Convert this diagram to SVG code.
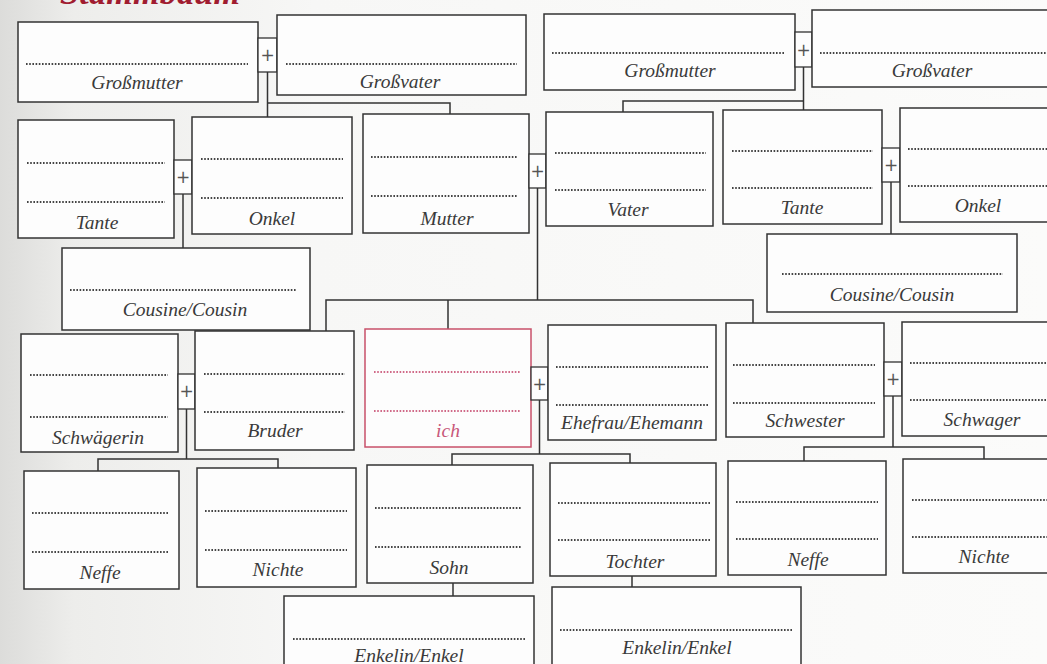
<svg xmlns="http://www.w3.org/2000/svg" width="1047" height="664" viewBox="0 0 1047 664">
<defs>
<linearGradient id="bg" x1="0" y1="0" x2="1" y2="0">
<stop offset="0" stop-color="#dcdcda"/>
<stop offset="0.07" stop-color="#ededeb"/>
<stop offset="0.3" stop-color="#f7f7f6"/>
<stop offset="1" stop-color="#fbfbfa"/>
</linearGradient>
<style>
.box{fill:#fdfdfd;stroke:#333;stroke-width:1.5}
.plus{fill:#fdfdfd;stroke:#333;stroke-width:1.3}
.pt{font-family:"DejaVu Sans",sans-serif;font-size:17px;fill:#555;text-anchor:middle}
.dot{stroke:#444;stroke-width:2;stroke-dasharray:1.6 1.6;fill:none}
.lbl{font-family:"Liberation Serif",serif;font-style:italic;font-size:19.5px;fill:#3a3a3a;text-anchor:middle}
.conn{stroke:#333;stroke-width:1.5;fill:none}
.red .box{stroke:#c8506a}
.red .dot{stroke:#d06a88}
.red .lbl{fill:#c8587a}
</style>
</defs>
<rect x="0" y="0" width="1047" height="664" fill="url(#bg)"/>
<text x="60" y="4" font-family="Liberation Serif, serif" font-style="italic" font-weight="bold" font-size="34" fill="#a01c30" textLength="180">Stammbaum</text>

<g id="connectors">
<path class="conn" d="M267.5 72 V117 M267.5 103 H450 V114"/>
<path class="conn" d="M803.5 67 V110 M803.5 101 H623 V112"/>
<path class="conn" d="M183 194 V248"/>
<path class="conn" d="M891 182 V234"/>
<path class="conn" d="M537.5 188 V300 M326 331 V300 H753 V323 M448 300 V329"/>
<path class="conn" d="M186.5 409 V459 M98 471 V459 H278 V468"/>
<path class="conn" d="M539.5 400 V454 M452 465 V454 H630 V463"/>
<path class="conn" d="M893 396 V447 M804 461 V447 H984 V459"/>
<path class="conn" d="M453 583 V596"/>
<path class="conn" d="M632 576 V587"/>
</g>

<g id="grossmutter-l"><rect class="box" x="18" y="22" width="240" height="80"/><line class="dot" x1="26" y1="64" x2="248" y2="64"/><text class="lbl" x="137" y="89">Großmutter</text></g>
<g id="plus-1"><rect class="plus" x="258" y="38" width="19" height="34"/><text class="pt" x="267.5" y="61">+</text></g>
<g id="grossvater-l"><rect class="box" x="277" y="15" width="249" height="80"/><line class="dot" x1="286" y1="64" x2="517" y2="64"/><text class="lbl" x="400" y="88">Großvater</text></g>
<g id="grossmutter-r"><rect class="box" x="544" y="14" width="251" height="76"/><line class="dot" x1="552" y1="53" x2="785" y2="53"/><text class="lbl" x="670" y="77">Großmutter</text></g>
<g id="plus-2"><rect class="plus" x="795" y="32" width="17" height="35"/><text class="pt" x="803.5" y="56">+</text></g>
<g id="grossvater-r"><rect class="box" x="812" y="10" width="240" height="77"/><line class="dot" x1="820" y1="53" x2="1047" y2="53"/><text class="lbl" x="932" y="77">Großvater</text></g>

<g id="tante-l"><rect class="box" x="18" y="120" width="156" height="118"/><line class="dot" x1="27" y1="163" x2="165" y2="163"/><line class="dot" x1="27" y1="202" x2="165" y2="202"/><text class="lbl" x="97" y="229">Tante</text></g>
<g id="plus-3"><rect class="plus" x="174" y="160" width="18" height="34"/><text class="pt" x="183" y="183">+</text></g>
<g id="onkel-l"><rect class="box" x="192" y="117" width="160" height="117"/><line class="dot" x1="201" y1="159" x2="343" y2="159"/><line class="dot" x1="201" y1="198" x2="343" y2="198"/><text class="lbl" x="272" y="225">Onkel</text></g>
<g id="mutter"><rect class="box" x="363" y="114" width="166" height="119"/><line class="dot" x1="371" y1="157" x2="518" y2="157"/><line class="dot" x1="371" y1="196" x2="518" y2="196"/><text class="lbl" x="447" y="225">Mutter</text></g>
<g id="plus-4"><rect class="plus" x="529" y="154" width="17" height="34"/><text class="pt" x="537.5" y="177">+</text></g>
<g id="vater"><rect class="box" x="546" y="112" width="167" height="114"/><line class="dot" x1="555" y1="153" x2="706" y2="153"/><line class="dot" x1="555" y1="190" x2="706" y2="190"/><text class="lbl" x="628" y="216">Vater</text></g>
<g id="tante-r"><rect class="box" x="723" y="110" width="159" height="114"/><line class="dot" x1="732" y1="151" x2="873" y2="151"/><line class="dot" x1="732" y1="188" x2="873" y2="188"/><text class="lbl" x="802" y="214">Tante</text></g>
<g id="plus-5"><rect class="plus" x="882" y="148" width="18" height="34"/><text class="pt" x="891" y="171">+</text></g>
<g id="onkel-r"><rect class="box" x="900" y="108" width="150" height="114"/><line class="dot" x1="908" y1="149" x2="1047" y2="149"/><line class="dot" x1="908" y1="186" x2="1047" y2="186"/><text class="lbl" x="978" y="212">Onkel</text></g>

<g id="cousin-l"><rect class="box" x="62" y="248" width="248" height="82"/><line class="dot" x1="70" y1="290" x2="297" y2="290"/><text class="lbl" x="185" y="316">Cousine/Cousin</text></g>
<g id="cousin-r"><rect class="box" x="767" y="234" width="250" height="78"/><line class="dot" x1="782" y1="274" x2="1003" y2="274"/><text class="lbl" x="892" y="301">Cousine/Cousin</text></g>

<g id="schwaegerin"><rect class="box" x="21" y="334" width="157" height="118"/><line class="dot" x1="30" y1="375" x2="168" y2="375"/><line class="dot" x1="30" y1="417" x2="168" y2="417"/><text class="lbl" x="98" y="444">Schwägerin</text></g>
<g id="plus-6"><rect class="plus" x="178" y="374" width="17" height="35"/><text class="pt" x="186.5" y="397">+</text></g>
<g id="bruder"><rect class="box" x="195" y="331" width="159" height="119"/><line class="dot" x1="204" y1="374" x2="345" y2="374"/><line class="dot" x1="204" y1="412" x2="345" y2="412"/><text class="lbl" x="275" y="437">Bruder</text></g>
<g id="ich" class="red"><rect class="box" x="365" y="329" width="166" height="118"/><line class="dot" x1="374" y1="372" x2="520" y2="372"/><line class="dot" x1="374" y1="411" x2="520" y2="411"/><text class="lbl" x="448" y="437">ich</text></g>
<g id="plus-7"><rect class="plus" x="531" y="367" width="17" height="33"/><text class="pt" x="539.5" y="390">+</text></g>
<g id="ehefrau"><rect class="box" x="548" y="325" width="168" height="115"/><line class="dot" x1="556" y1="367" x2="709" y2="367"/><line class="dot" x1="556" y1="405" x2="709" y2="405"/><text class="lbl" x="632" y="429">Ehefrau/Ehemann</text></g>
<g id="schwester"><rect class="box" x="726" y="323" width="158" height="114"/><line class="dot" x1="733" y1="365" x2="875" y2="365"/><line class="dot" x1="733" y1="403" x2="875" y2="403"/><text class="lbl" x="805" y="427">Schwester</text></g>
<g id="plus-8"><rect class="plus" x="884" y="362" width="18" height="34"/><text class="pt" x="893" y="385">+</text></g>
<g id="schwager"><rect class="box" x="902" y="322" width="150" height="114"/><line class="dot" x1="910" y1="363" x2="1047" y2="363"/><line class="dot" x1="910" y1="400" x2="1047" y2="400"/><text class="lbl" x="982" y="426">Schwager</text></g>

<g id="neffe-l"><rect class="box" x="24" y="471" width="155" height="118"/><line class="dot" x1="32" y1="513" x2="169" y2="513"/><line class="dot" x1="32" y1="552" x2="169" y2="552"/><text class="lbl" x="100" y="579">Neffe</text></g>
<g id="nichte-l"><rect class="box" x="197" y="468" width="159" height="119"/><line class="dot" x1="205" y1="511" x2="347" y2="511"/><line class="dot" x1="205" y1="550" x2="347" y2="550"/><text class="lbl" x="278" y="576">Nichte</text></g>
<g id="sohn"><rect class="box" x="367" y="465" width="166" height="118"/><line class="dot" x1="375" y1="508" x2="521" y2="508"/><line class="dot" x1="375" y1="547" x2="521" y2="547"/><text class="lbl" x="449" y="574">Sohn</text></g>
<g id="tochter"><rect class="box" x="550" y="463" width="166" height="113"/><line class="dot" x1="558" y1="503" x2="710" y2="503"/><line class="dot" x1="558" y1="540" x2="710" y2="540"/><text class="lbl" x="635" y="568">Tochter</text></g>
<g id="neffe-r"><rect class="box" x="728" y="461" width="158" height="114"/><line class="dot" x1="736" y1="502" x2="878" y2="502"/><line class="dot" x1="736" y1="539" x2="878" y2="539"/><text class="lbl" x="808" y="566">Neffe</text></g>
<g id="nichte-r"><rect class="box" x="903" y="459" width="150" height="114"/><line class="dot" x1="912" y1="500" x2="1047" y2="500"/><line class="dot" x1="912" y1="537" x2="1047" y2="537"/><text class="lbl" x="984" y="563">Nichte</text></g>

<g id="enkel-l"><rect class="box" x="284" y="596" width="250" height="80"/><line class="dot" x1="293" y1="639" x2="525" y2="639"/><text class="lbl" x="409" y="662">Enkelin/Enkel</text></g>
<g id="enkel-r"><rect class="box" x="552" y="587" width="249" height="90"/><line class="dot" x1="560" y1="630" x2="792" y2="630"/><text class="lbl" x="677" y="654">Enkelin/Enkel</text></g>
</svg>
